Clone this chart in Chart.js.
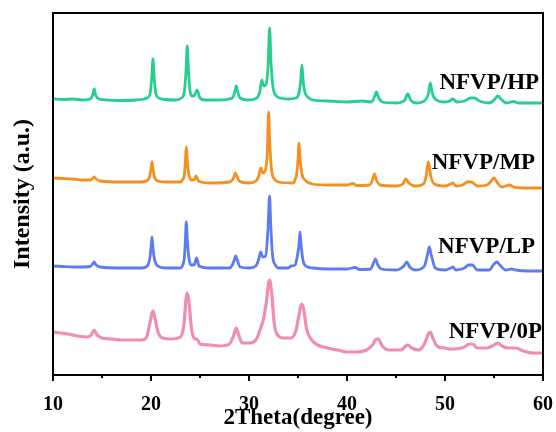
<!DOCTYPE html>
<html>
<head>
<meta charset="utf-8">
<script src="https://cdn.jsdelivr.net/npm/chart.js@4"></script>
<style>
  html, body { margin: 0; padding: 0; background: #fff; }
  #wrap { width: 556px; height: 432px; }
</style>
</head>
<body>
<div id="wrap"><canvas id="xrdChart" width="556" height="432"></canvas></div>
<script>
// 2Theta positions and offset intensities (a.u.)
const hpX = [10, 11, 12, 13, 13.8, 14.05, 14.2, 14.35, 14.7, 15.5, 17, 18.5, 19.3, 19.6, 19.9, 20.08, 20.2, 20.32, 20.5, 20.8, 21.5, 22.5, 23.1, 23.4, 23.58, 23.7, 23.82, 24.0, 24.2, 24.45, 24.7, 25.0, 25.5, 27, 28.3, 28.55, 28.7, 28.85, 29.1, 30, 30.8, 31.1, 31.3, 31.5, 31.75, 31.95, 32.1, 32.25, 32.45, 32.8, 33.2, 34, 34.8, 35.1, 35.28, 35.4, 35.52, 35.7, 36.0, 36.5, 38, 40, 41.5, 42.5, 42.8, 43.0, 43.2, 43.6, 45, 45.9, 46.2, 46.5, 47, 48.0, 48.3, 48.5, 48.7, 49.0, 50, 50.5, 50.8, 51.2, 52, 52.6, 53, 53.5, 54.5, 55.1, 55.4, 55.7, 56.3, 57, 57.5, 59, 60];
const hpY = [276, 275.5, 276, 275, 276, 280, 286, 280, 276, 275, 274.5, 275, 276, 277, 281, 298, 316, 298, 281, 277, 275.5, 275, 277, 283, 305, 329, 305, 283, 279, 280, 285, 277, 275, 275, 277, 283, 289, 283, 277, 275, 277, 283, 295, 289, 291, 310, 347, 312, 288, 279, 277, 276, 277, 282, 295, 310, 295, 283, 278, 275, 274, 273, 274, 273, 278, 283, 278, 273, 272, 275, 281, 275, 272, 275, 281, 292, 282, 276, 273, 274, 276, 273, 274, 277, 277, 274, 272, 276, 279, 276, 272, 273.5, 272, 272, 272];

const mpX = [10, 11, 12, 13, 13.8, 14.05, 14.2, 14.4, 14.8, 17, 19, 19.5, 19.8, 19.98, 20.1, 20.22, 20.4, 20.7, 21.5, 23.0, 23.2, 23.4, 23.5, 23.6, 23.72, 23.9, 24.1, 24.4, 24.6, 24.85, 26, 28, 28.3, 28.5, 28.6, 28.75, 29.0, 30, 30.7, 31.0, 31.2, 31.4, 31.65, 31.88, 32.0, 32.12, 32.3, 32.6, 33, 34.5, 34.7, 34.9, 35.0, 35.1, 35.22, 35.4, 35.7, 36.5, 38, 40, 40.6, 41, 42.3, 42.6, 42.8, 43.0, 43.4, 45, 45.7, 46.0, 46.3, 47, 47.8, 48.05, 48.3, 48.55, 48.9, 50, 50.6, 50.8, 51.1, 51.8, 52.3, 52.7, 53.3, 54.3, 54.8, 55.0, 55.3, 55.8, 56.6, 57, 58, 60];
const mpY = [197, 196.5, 196, 195, 195, 196.5, 198, 196, 194, 193, 193, 194, 197, 205, 213, 205, 197, 194, 193, 193, 195, 200, 212, 228, 212, 199, 195, 195, 199, 194, 192, 193, 195, 199, 202, 199, 194, 192, 194, 199, 207, 202, 204, 225, 263, 232, 205, 196, 193, 192, 195, 203, 215, 232, 215, 201, 195, 191, 190, 190, 191.5, 189.5, 190, 195, 201, 195, 190, 189, 191, 196, 192, 189, 191, 198, 213, 199, 191, 189, 191, 192, 189, 190, 193, 193, 189, 190, 195, 197, 193, 188, 190, 188, 187, 187];

const lpX = [10, 11, 12, 13, 13.8, 14.05, 14.2, 14.4, 14.8, 17, 19, 19.5, 19.8, 19.98, 20.1, 20.22, 20.4, 20.7, 21.5, 23, 23.2, 23.4, 23.5, 23.6, 23.72, 23.9, 24.1, 24.4, 24.65, 24.9, 26, 28, 28.3, 28.5, 28.65, 28.8, 29.1, 30, 30.7, 31.0, 31.2, 31.4, 31.7, 31.93, 32.1, 32.22, 32.4, 32.7, 33, 34, 34.3, 34.7, 34.95, 35.1, 35.2, 35.32, 35.5, 35.8, 36.5, 38, 40, 40.8, 41.3, 42.4, 42.7, 42.9, 43.1, 43.5, 45, 45.8, 46.1, 46.4, 47, 47.9, 48.2, 48.4, 48.6, 49, 50, 50.6, 50.8, 51.1, 52, 52.4, 52.8, 53.3, 54.5, 55.0, 55.3, 55.6, 56.2, 56.8, 57.2, 58.5, 60];
const lpY = [109, 108.5, 108, 108, 108.5, 111, 113, 110, 108, 107, 107, 108, 113, 125, 138, 125, 114, 109, 107, 107, 109, 117, 133, 153, 133, 115, 110, 110, 117, 109, 107, 107, 110, 115, 119, 115, 108, 107, 109, 116, 123, 118, 119, 145, 179, 150, 120, 110, 107, 107, 109, 110, 120, 130, 143, 130, 115, 109, 107, 106, 106, 107.5, 105.5, 106, 112, 116, 111, 106, 105, 109, 113, 108, 105, 109, 120, 128, 120, 107, 105, 107, 108, 105, 107, 110, 110, 105, 105, 111, 113, 110, 105, 106, 105, 104, 104];

const opX = [10, 10.8, 11.5, 12.5, 13.5, 13.9, 14.2, 14.5, 15, 16, 17, 18, 19, 19.5, 19.85, 20.1, 20.2, 20.4, 20.75, 21.2, 22, 23, 23.35, 23.6, 23.7, 23.85, 24.15, 24.5, 24.7, 25.0, 26, 27, 28, 28.45, 28.7, 28.95, 29.3, 30, 30.7, 31.2, 31.5, 31.8, 32.0, 32.1, 32.3, 32.6, 33, 33.5, 34.3, 34.8, 35.1, 35.35, 35.55, 35.9, 36.4, 37, 38, 39, 40, 41, 42, 42.6, 43.0, 43.2, 43.6, 44.3, 45.5, 46.0, 46.2, 46.6, 47.3, 47.9, 48.3, 48.5, 48.75, 49.3, 50, 50.5, 51, 52, 52.5, 52.8, 53.3, 54.3, 55.0, 55.4, 55.8, 56.5, 57.2, 58, 59, 60];
const opY = [43, 42, 41, 39, 38, 40, 45, 40, 37, 36, 35, 35, 35, 37, 50, 62, 64, 57, 42, 37, 36, 38, 50, 78, 82, 75, 45, 36, 36, 31, 30, 29, 31, 40, 47, 40, 32, 32, 35, 47, 57, 75, 92, 95, 83, 50, 39, 37, 37, 45, 60, 71, 67, 45, 35, 30, 27, 25, 23, 23, 25, 30, 36, 36, 29, 25, 25, 29, 30, 27, 25, 31, 41, 43, 37, 28, 27, 26, 26, 28, 31, 31, 27, 27, 30, 32, 29, 27, 27, 24, 22, 22];

const seriesNames = ['NFVP/HP', 'NFVP/MP', 'NFVP/LP', 'NFVP/0P'];
const seriesColors = ['#26CF8E', '#F5901F', '#5C7DF2', '#F08DB5'];
// where each sample name sits (right end, 2Theta) and its height (a.u.)
const labelX = [59.6, 59.2, 59.2, 59.9];
const labelY = [292, 212, 128, 43];

function pts(xs, ys) {
    return xs.map((x, i) => ({ x: x, y: ys[i] }));
}

const serifBold = { family: "'Liberation Serif', 'Times New Roman', serif", weight: 'bold' };

// frame, bottom ticks and sample names
const framePlugin = {
    id: 'frame',
    afterDraw(chart) {
        const ctx = chart.ctx;
        const a = chart.chartArea;
        const xs = chart.scales.x;
        const ys = chart.scales.y;
        ctx.save();
        ctx.strokeStyle = '#000';
        ctx.lineWidth = 2;
        ctx.strokeRect(a.left, a.top, a.right - a.left, a.bottom - a.top);
        for (let v = 10; v <= 60; v += 5) {
            const px = Math.round(xs.getPixelForValue(v));
            const len = (v % 10 === 0) ? 6 : 3;
            ctx.beginPath();
            ctx.moveTo(px, a.bottom);
            ctx.lineTo(px, a.bottom + len);
            ctx.stroke();
        }
        ctx.fillStyle = '#000';
        ctx.font = "bold 23px 'Liberation Serif', 'Times New Roman', serif";
        ctx.textAlign = 'right';
        ctx.textBaseline = 'middle';
        seriesNames.forEach((name, i) => {
            ctx.fillText(name, xs.getPixelForValue(labelX[i]), ys.getPixelForValue(labelY[i]));
        });
        ctx.restore();
    }
};

const ctxXrd = document.getElementById('xrdChart').getContext('2d');
const xrdChart = new Chart(ctxXrd, {
    type: 'line',
    data: {
        datasets: [
            { label: seriesNames[0], data: pts(hpX, hpY) },
            { label: seriesNames[1], data: pts(mpX, mpY) },
            { label: seriesNames[2], data: pts(lpX, lpY) },
            { label: seriesNames[3], data: pts(opX, opY) }
        ].map((d, i) => Object.assign(d, {
            borderColor: seriesColors[i],
            borderWidth: i === 3 ? 3.2 : 2.8,
            pointRadius: 0,
            fill: false,
            cubicInterpolationMode: 'monotone'
        }))
    },
    options: {
        responsive: false,
        animation: false,
        layout: { padding: { top: 13, right: 13, left: 0, bottom: 0 } },
        plugins: {
            legend: { display: false },
            tooltip: { enabled: false }
        },
        scales: {
            x: {
                type: 'linear',
                min: 10,
                max: 60,
                grid: { display: true, drawOnChartArea: false, drawTicks: false, color: 'rgba(0,0,0,0)' },
                border: { display: false },
                ticks: {
                    stepSize: 10,
                    padding: 18,
                    color: '#000',
                    font: Object.assign({ size: 20 }, serifBold)
                },
                title: {
                    display: true,
                    text: '2Theta(degree)',
                    color: '#000',
                    padding: { top: 0, bottom: 0 },
                    font: Object.assign({ size: 23 }, serifBold)
                },
                afterFit(scale) {
                    scale.height = 57;
                    scale.paddingLeft = 0;
                    scale.paddingRight = 0;
                }
            },
            y: {
                min: 0,
                max: 362,
                grid: { display: false },
                border: { display: false },
                ticks: { display: false },
                title: {
                    display: true,
                    text: 'Intensity (a.u.)',
                    color: '#000',
                    padding: { top: 8, bottom: 0 },
                    font: Object.assign({ size: 24 }, serifBold)
                },
                afterFit(scale) {
                    scale.width = 53;
                    scale.paddingTop = 0;
                    scale.paddingBottom = 0;
                }
            }
        }
    },
    plugins: [framePlugin]
});
</script>
</body>
</html>
